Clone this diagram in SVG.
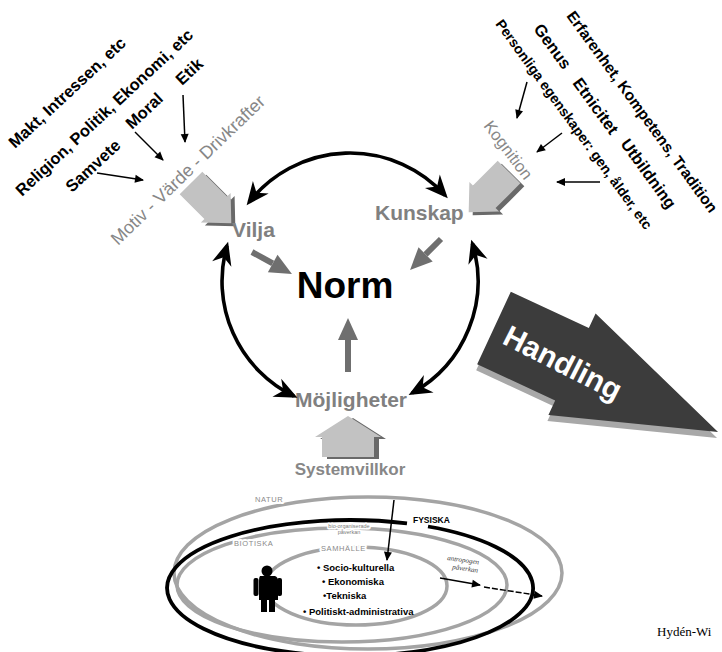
<svg xmlns="http://www.w3.org/2000/svg" width="722" height="652" viewBox="0 0 722 652">
<defs>
<style>
.lb{font-family:"Liberation Sans",Arial,sans-serif;font-weight:bold;font-size:16.5px;fill:#000}
.gt{font-family:"Liberation Sans",Arial,sans-serif;fill:#878787}
.node{font-family:"Liberation Sans",Arial,sans-serif;font-weight:bold;font-size:21px;fill:#808080}
.ell{fill:none;stroke:#a4a4a4;stroke-width:3.5}
.halo{paint-order:stroke;stroke:#fff;stroke-width:4;stroke-linejoin:round}
.cyc{fill:none;stroke:#000;stroke-width:3.6;marker-start:url(#ah);marker-end:url(#ah)}
.thin{fill:none;stroke:#000;stroke-width:1.5;marker-end:url(#sa)}
.gray{fill:none;stroke:#6f6f6f;stroke-width:6;marker-end:url(#gh)}
.blk{fill:#c2c2c2}
.shd{fill:#696969}
.list{font-family:"Liberation Sans",Arial,sans-serif;font-weight:bold;font-size:9.5px;fill:#000}
.small{font-family:"Liberation Sans",Arial,sans-serif;font-size:7.5px;fill:#8a8a8a;letter-spacing:0.6px}
</style>
<marker id="ah" viewBox="-24 -12 28 24" markerWidth="28" markerHeight="24" refX="-4" refY="0" orient="auto-start-reverse" markerUnits="userSpaceOnUse"><path d="M0,0 L-23,-10 L-16,0 L-23,10 Z" fill="#000"/></marker>
<marker id="gh" viewBox="-23 -11 24 22" markerWidth="24" markerHeight="22" refX="-22" refY="0" orient="auto" markerUnits="userSpaceOnUse"><path d="M0,0 L-22,-10 L-22,10 Z" fill="#6f6f6f"/></marker>
<marker id="sa" viewBox="-10 -5 11 10" markerWidth="11" markerHeight="10" refX="-1" refY="0" orient="auto" markerUnits="userSpaceOnUse"><path d="M0,0 L-9,-4 L-9,4 Z" fill="#000"/></marker>
<polygon id="blockp" points="0,-16 35,-16 35,-21 57,0 35,21 35,16 0,16"/>
</defs>
<rect width="722" height="652" fill="#fff"/>

<g id="n-drivers">
<text class="lb" transform="translate(15,149) rotate(-43)">Makt, Intressen, etc</text>
<text class="lb" transform="translate(22,197) rotate(-43)">Religion, Politik, Ekonomi, etc</text>
<text class="lb" transform="translate(72,193) rotate(-43)">Samvete</text>
<text class="lb" transform="translate(132,130) rotate(-43)">Moral</text>
<text class="lb" transform="translate(182,86) rotate(-43)">Etik</text>
<text class="gt" font-size="18" transform="translate(118,246) rotate(-44)">Motiv - Värde - Drivkrafter</text>
</g>

<g id="n-vilja-block">
<use href="#blockp" class="shd" transform="translate(195,186) rotate(45)"/>
<use href="#blockp" class="blk" transform="translate(191,183) rotate(45)"/>
</g>
<g id="n-kunskap-block">
<use href="#blockp" class="shd" transform="translate(513,175) rotate(135)"/>
<use href="#blockp" class="blk" transform="translate(509,172) rotate(135)"/>
</g>
<g id="n-system-block">
<polygon class="shd" points="353,418 386,439 379,439 379,459 327,459 327,439 320,439"/>
<polygon class="blk" points="348,416 381,437 374,437 374,457 322,457 322,437 315,437"/>
</g>

<g id="n-kognition-factors">
<text class="lb" style="font-size:15.5px" transform="translate(566,16) rotate(54)">Erfarenhet, Kompetens, Tradition</text>
<text class="lb" transform="translate(533,29) rotate(54)">Genus</text>
<text class="lb" transform="translate(572,83) rotate(54)">Etnicitet</text>
<text class="lb" transform="translate(620,144) rotate(54)">Utbildning</text>
<text class="lb" style="font-size:14px" transform="translate(495,24) rotate(54)">Personliga egenskaper: gen, ålder, etc</text>
<text class="gt" font-size="16.5" transform="translate(483,126) rotate(53)">Kognition</text>
</g>

<g id="n-vilja"><text class="node" x="232" y="237">Vilja</text></g>
<g id="n-kunskap"><text class="node" x="375" y="220">Kunskap</text></g>
<g id="n-mojligheter"><text class="node" x="295" y="407">Möjligheter</text></g>
<g id="n-norm"><text x="345" y="298" text-anchor="middle" font-family="Liberation Sans, Arial, sans-serif" font-weight="bold" font-size="37" fill="#000">Norm</text></g>
<g id="n-systemvillkor"><text class="gt" x="350" y="475" text-anchor="middle" font-weight="bold" font-size="17">Systemvillkor</text></g>

<g id="n-handling">
<polygon fill="#a8a8a8" points="0,-40 86,-40 86,-56 247,0 86,56 86,40 0,40" transform="translate(493,334) rotate(24.9)"/>
<polygon fill="#3c3c3c" points="0,-40 86,-40 86,-56 247,0 86,56 86,40 0,40" transform="translate(494,328) rotate(24.9)"/>
<text transform="translate(501,343) rotate(27)" font-family="Liberation Sans, Arial, sans-serif" font-weight="bold" font-size="30" fill="#fff">Handling</text>
</g>

<g id="n-system-rings">
<ellipse class="ell" cx="368" cy="573" rx="194" ry="76"/>
<ellipse class="ell" cx="342" cy="585" rx="165" ry="57"/>
<ellipse class="ell" cx="356" cy="586" rx="91" ry="39"/>
<path d="M428,526.5 A183,68 0 1 1 407,523.4" fill="none" stroke="#000" stroke-width="3.8"/>
<text class="small halo" x="255" y="502">NATUR</text>
<text class="small halo" x="234" y="546">BIOTISKA</text>
<text class="small halo" x="321" y="551">SAMHÄLLE</text>
<text x="413" y="523" font-family="Liberation Sans, Arial, sans-serif" font-weight="bold" font-size="8.5" fill="#000">FYSISKA</text>
<g font-family="Liberation Sans, Arial, sans-serif" font-size="5.5" fill="#7a7a7a" text-anchor="middle" class="halo" style="stroke-width:3">
<text x="349" y="528">bio-organiserade</text>
<text x="349" y="534">påverkan</text>
</g>
<g font-family="Liberation Serif, Times New Roman, serif" font-style="italic" font-size="7" fill="#333">
<text transform="translate(447,560) rotate(8)">antropogen</text>
<text transform="translate(452,569) rotate(8)">påverkan</text>
</g>
<text class="list" x="317" y="571">• Socio-kulturella</text>
<text class="list" x="322" y="585">• Ekonomiska</text>
<text class="list" x="323" y="599">•Tekniska</text>
<text class="list" x="303" y="615">• Politiskt-administrativa</text>
<g id="figure" fill="#000">
<circle cx="267" cy="571" r="5.5"/>
<path d="M260,576 L275,576 Q278,577 278,581 L278,600 L259,600 L259,581 Q259,577 260,576 Z"/>
<rect x="253.5" y="578" width="5" height="18" rx="2"/>
<rect x="277" y="578" width="5" height="18" rx="2"/>
<rect x="261" y="598" width="6" height="14"/>
<rect x="269" y="598" width="6" height="14"/>
</g>
</g>

<g id="connectors">
<path class="cyc" d="M249.1,202.2 A128,128 0 0 1 445.1,195.4"/>
<path class="cyc" d="M227,245.7 A128,128 0 0 0 293.9,396.1"/>
<path class="cyc" d="M472.4,243.6 A128,128 0 0 1 412.1,393"/>
<path class="gray" d="M252,252 L272.7,263.4"/>
<path class="gray" d="M441,239 L425.6,254.4"/>
<path class="gray" d="M348,372 L348,340"/>
<path class="thin" d="M135,132 L163,160"/>
<path class="thin" d="M97,173 L143,180"/>
<path class="thin" d="M183,95 L185,142"/>
<path class="thin" d="M527,82 L517,118"/>
<path class="thin" d="M562,133 L537,152"/>
<path class="thin" d="M600,182 L557,182"/>
<path class="thin" d="M394,500 L387,560" stroke-width="1.3"/>
<path class="thin" d="M440,578 L480,585"/>
<path class="thin" d="M484,587 L542,596" stroke-dasharray="6 2" stroke-width="1.7"/>
</g>

<text x="657" y="636" font-family="Liberation Serif, Times New Roman, serif" font-size="13" fill="#000">Hydén-Wi</text>
</svg>
